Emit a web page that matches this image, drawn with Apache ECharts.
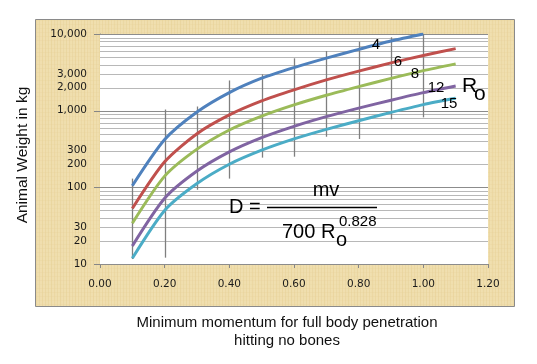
<!DOCTYPE html>
<html><head><meta charset="utf-8">
<script src="https://cdn.jsdelivr.net/npm/echarts@6/dist/echarts.min.js"></script>
<style>html,body{margin:0;padding:0;background:#fff}#c{width:537px;height:364px}</style>
</head><body><div id="c"></div>
<script>
// ---- data ----
const momentum = [0.1, 0.2, 0.3, 0.4, 0.5, 0.6, 0.7, 0.8, 0.9, 1.0, 1.1];
const ro4  = [105, 420, 960, 1720, 2650, 3650, 4850, 6300, 8100, 10000];
const ro6  = [53, 215, 500, 880, 1340, 1870, 2520, 3280, 4200, 5250, 6450];
const ro8  = [34, 140, 315, 560, 850, 1190, 1590, 2060, 2640, 3330, 4080];
const ro12 = [17.2, 72, 163, 290, 445, 625, 835, 1080, 1370, 1720, 2100];
const ro15 = [11.9, 50, 112, 200, 305, 428, 570, 740, 950, 1200, 1450];
const seriesNames = ['4', '6', '8', '12', '15'];
const barX    = [0.1, 0.2, 0.3, 0.4, 0.5, 0.6, 0.7, 0.8, 0.9, 1.0];
const barLow  = [11.6, 12.1, 93, 130, 244, 251, 457, 427, 771, 818];
const barHigh = [130, 1035, 1133, 2477, 2979, 4820, 5998, 7943, 9060, 10000];
const yMajor = [10, 100, 1000, 10000];
const yMinor = [20, 30, 40, 50, 60, 70, 80, 90, 200, 300, 400, 500, 600, 700, 800, 900,
                2000, 3000, 4000, 5000, 6000, 7000, 8000, 9000];
const yTickLabels = [10, 20, 30, 100, 200, 300, 1000, 2000, 3000, 10000];
const xMin = 0, xMax = 1.2, xStep = 0.2;

// ---- styles ----
const colors = ['#4F81BD', '#C0504D', '#9BBB59', '#8064A2', '#4BACC6'];
const FONT = '"Liberation Sans", Arial, sans-serif';
const TICKFONT = '"DejaVu Sans", Verdana, sans-serif';

// parchment pattern (deterministic)
function parchment() {
  const cv = document.createElement('canvas');
  cv.width = 120; cv.height = 60;
  const g = cv.getContext('2d');
  g.fillStyle = '#EEDCAA'; g.fillRect(0, 0, 120, 60);
  for (let i = 0; i < 120; i++) {
    const a = 0.10 + 0.10 * Math.abs(Math.sin(i * 1.7) * Math.cos(i * 0.37));
    g.fillStyle = (i % 3 === 0) ? 'rgba(220,190,120,' + a + ')' : 'rgba(252,242,210,' + (a * 0.8) + ')';
    g.fillRect(i, 0, 1, 60);
  }
  for (let j = 0; j < 60; j += 4) {
    g.fillStyle = 'rgba(232,208,150,' + (0.15 + 0.1 * Math.abs(Math.sin(j))) + ')';
    g.fillRect(0, j, 120, 1);
  }
  return cv;
}

const chart = echarts.init(document.getElementById('c'), null, {renderer: 'canvas'});
const fmt = v => String(v).replace(/\B(?=(\d{3})+(?!\d))/g, ',');

const gridData = yMajor.map(v => [0, v, 1]).concat(yMinor.map(v => [0, v, 0]));

const lineSeries = [ro4, ro6, ro8, ro12, ro15].map((arr, i) => ({
  name: seriesNames[i], type: 'line', smooth: 0.25, symbol: 'none', z: 5,
  data: arr.map((v, k) => [momentum[k], v]),
  lineStyle: {color: colors[i], width: 3}, itemStyle: {color: colors[i]}
}));

chart.setOption({
  animation: false,
  backgroundColor: '#fff',
  grid: {left: 100, right: 49, top: 34, bottom: 100, show: true, backgroundColor: '#fff', borderWidth: 0, z: 1},
  xAxis: {
    type: 'value', min: xMin, max: xMax, interval: xStep,
    axisLine: {show: true, lineStyle: {color: '#868686', width: 1}},
    axisTick: {show: true, inside: false, length: 4, lineStyle: {color: '#868686'}},
    axisLabel: {margin: 15, color: '#1a1a1a', fontFamily: TICKFONT, fontSize: 10.5, formatter: v => v.toFixed(2)},
    splitLine: {show: false}
  },
  yAxis: {
    type: 'log', logBase: 10, min: 10, max: 10000,
    axisLine: {show: true, lineStyle: {color: '#868686', width: 1}},
    axisTick: {show: false}, axisLabel: {show: false}, splitLine: {show: false}
  },
  graphic: [
    {type: 'rect', z: -10, silent: true, shape: {x: 35.5, y: 19.5, width: 479, height: 287},
     style: {fill: {image: parchment(), repeat: 'repeat'}, stroke: '#8a8a8a', lineWidth: 1}},
    {type: 'text', x: 23, y: 155, rotation: Math.PI / 2, silent: true,
     style: {text: 'Animal Weight in kg', font: '15.5px ' + FONT, fill: '#111', align: 'center', verticalAlign: 'middle'}},
    {type: 'text', x: 287, y: 323, silent: true,
     style: {text: 'Minimum momentum for full body penetration', font: '15px ' + FONT, fill: '#111', align: 'center', verticalAlign: 'middle'}},
    {type: 'text', x: 287, y: 341, silent: true,
     style: {text: 'hitting no bones', font: '15px ' + FONT, fill: '#111', align: 'center', verticalAlign: 'middle'}},
    // curve labels
    {type: 'text', x: 376, y: 45, z: 10, style: {text: '4', font: '15px ' + FONT, fill: '#000', align: 'center', verticalAlign: 'middle'}},
    {type: 'text', x: 398, y: 62, z: 10, style: {text: '6', font: '15px ' + FONT, fill: '#000', align: 'center', verticalAlign: 'middle'}},
    {type: 'text', x: 415, y: 74, z: 10, style: {text: '8', font: '15px ' + FONT, fill: '#000', align: 'center', verticalAlign: 'middle'}},
    {type: 'text', x: 436, y: 88, z: 10, style: {text: '12', font: '15px ' + FONT, fill: '#000', align: 'center', verticalAlign: 'middle'}},
    {type: 'text', x: 449, y: 104, z: 10, style: {text: '15', font: '15px ' + FONT, fill: '#000', align: 'center', verticalAlign: 'middle'}},
    {type: 'text', x: 462, y: 86, z: 10, style: {text: 'R', font: '21px ' + FONT, fill: '#000', align: 'left', verticalAlign: 'middle'}},
    {type: 'text', x: 474, y: 94, z: 10, style: {text: 'o', font: '21px ' + FONT, fill: '#000', align: 'left', verticalAlign: 'middle'}},
    // formula
    {type: 'text', x: 229, y: 207, z: 10, style: {text: 'D =', font: '20px ' + FONT, fill: '#000', align: 'left', verticalAlign: 'middle'}},
    {type: 'line', z: 10, shape: {x1: 267, y1: 207.5, x2: 377, y2: 207.5}, style: {stroke: '#000', lineWidth: 1.5}},
    {type: 'text', x: 326, y: 190, z: 10, style: {text: 'mv', font: '20px ' + FONT, fill: '#000', align: 'center', verticalAlign: 'middle'}},
    {type: 'text', x: 282, y: 232, z: 10, style: {text: '700 R', font: '20px ' + FONT, fill: '#000', align: 'left', verticalAlign: 'middle'}},
    {type: 'text', x: 336, y: 240, z: 10, style: {text: 'o', font: '20px ' + FONT, fill: '#000', align: 'left', verticalAlign: 'middle'}},
    {type: 'text', x: 339, y: 222, z: 10, style: {text: '0.828', font: '15px ' + FONT, fill: '#000', align: 'left', verticalAlign: 'middle'}}
  ],
  series: [
    {
      type: 'custom', name: 'grid', z: 2, clip: false, silent: true,
      data: gridData,
      renderItem: (params, api) => {
        const v = api.value(1), major = api.value(2) === 1;
        const p0 = api.coord([xMin, v]), p1 = api.coord([xMax, v]);
        const y = Math.round(p0[1]) + 0.5;
        const children = [{type: 'line', shape: {x1: p0[0], y1: y, x2: p1[0], y2: y},
          style: {stroke: major ? '#8c8c8c' : '#b8b8b8', lineWidth: 1}}];
        if (major) children.push({type: 'line', shape: {x1: p0[0] - 6, y1: y, x2: p0[0], y2: y},
          style: {stroke: '#868686', lineWidth: 1}});
        if (yTickLabels.indexOf(v) >= 0) children.push({type: 'text', x: p0[0] - 13, y: p0[1],
          style: {text: fmt(v), font: '10.5px ' + TICKFONT, fill: '#1a1a1a', align: 'right', verticalAlign: 'middle'}});
        return {type: 'group', children};
      }
    },
    {
      type: 'custom', name: 'bars', z: 3, silent: true,
      data: barX.map((x, i) => [x, barLow[i], barHigh[i]]),
      renderItem: (params, api) => {
        const a = api.coord([api.value(0), api.value(1)]), b = api.coord([api.value(0), api.value(2)]);
        const x = Math.round(a[0]) + 0.5;
        return {type: 'line', shape: {x1: x, y1: a[1], x2: x, y2: b[1]}, style: {stroke: '#7f7f7f', lineWidth: 1.3}};
      }
    }
  ].concat(lineSeries)
});
</script></body></html>
